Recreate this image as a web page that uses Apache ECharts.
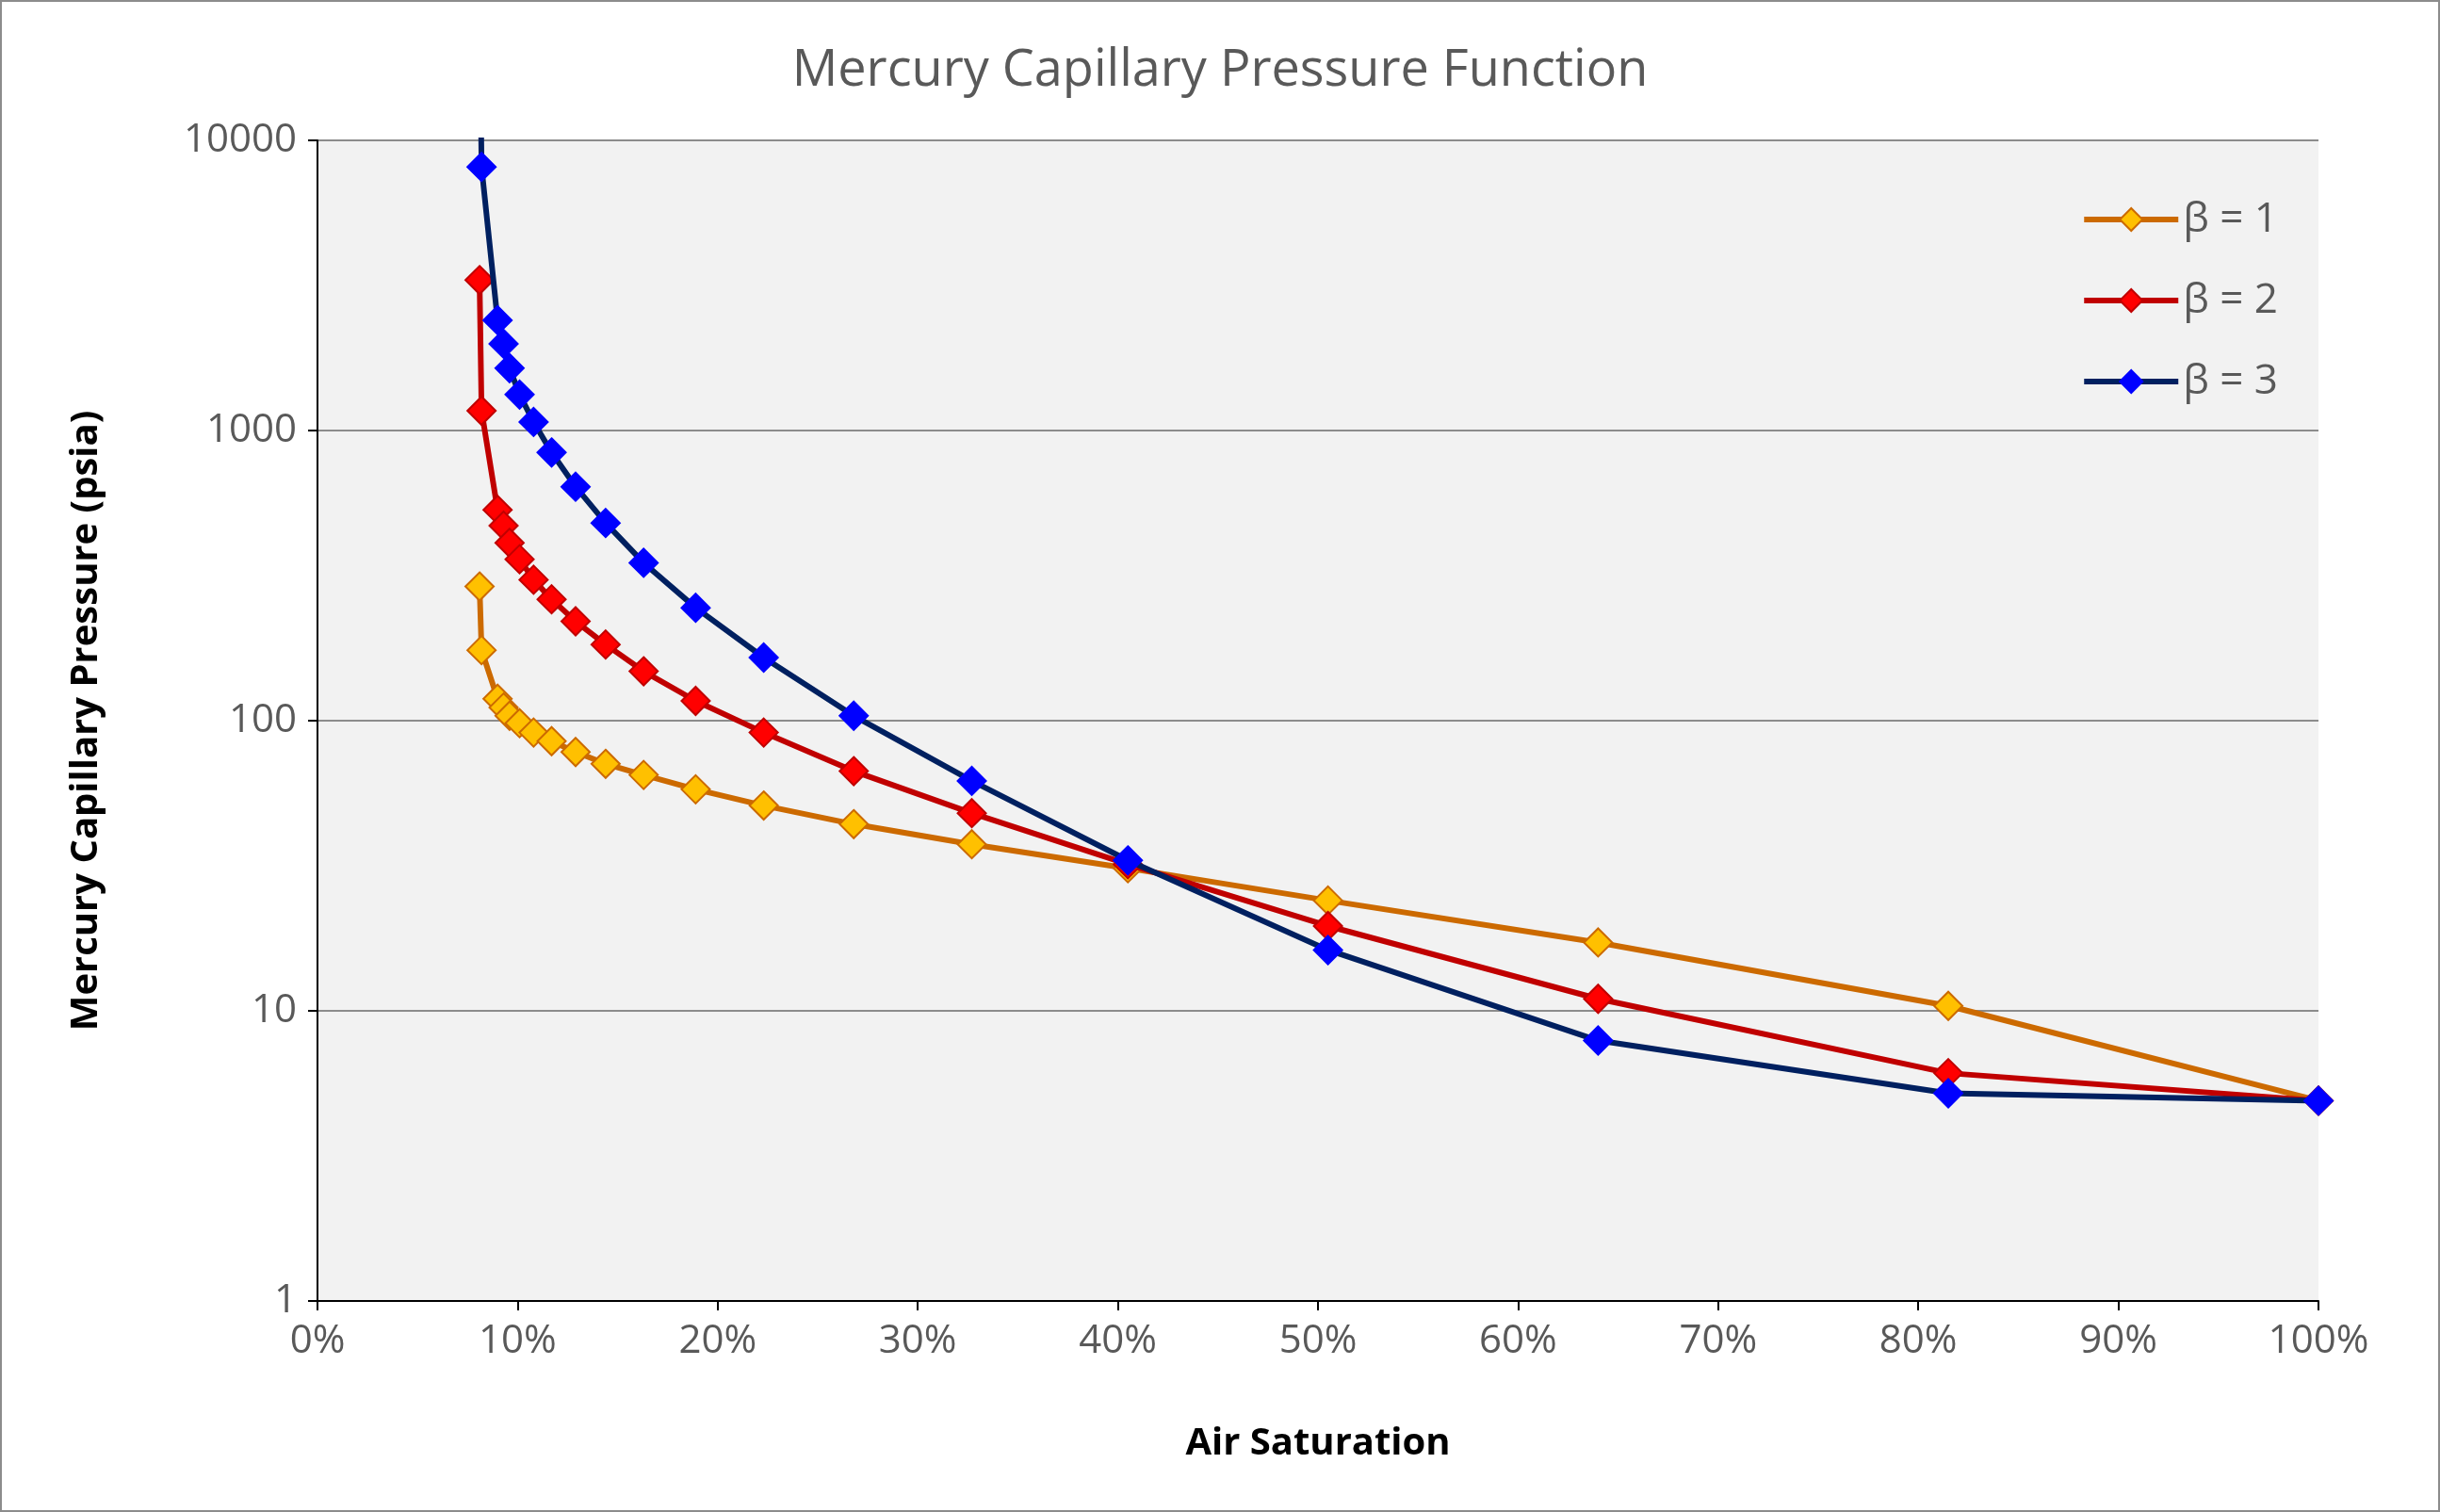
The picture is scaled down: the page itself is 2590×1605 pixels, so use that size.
<!DOCTYPE html>
<html>
<head>
<meta charset="utf-8">
<script src="https://cdn.jsdelivr.net/npm/echarts@6/dist/echarts.min.js"></script>
<style>
  html, body { margin: 0; padding: 0; background: #fff; }
  #main { width: 2590px; height: 1605px; box-sizing: border-box; border: 2px solid #8c8c8c; }
</style>
</head>
<body>
<div id="main"></div>
<script>
// air saturation (%)
const saturation = [8.1, 8.2, 9.0, 9.3, 9.6, 10.1, 10.8, 11.7, 12.9, 14.4, 16.3, 18.9, 22.3, 26.8, 32.7, 40.5, 50.5, 64.0, 81.5, 100];
// capillary pressure (psia)
const beta1 = [290, 175, 119, 111, 104, 98, 91, 85, 78, 71, 65, 58, 51, 44, 37.5, 31, 24, 17.2, 10.4, 4.9];
const beta2 = [3300, 1170, 533, 470, 410, 360, 306, 262, 220, 183, 148, 117, 91, 67, 48, 32, 19.6, 11, 6.1, 4.9];
const beta3 = [30000, 8100, 2400, 1990, 1640, 1330, 1070, 840, 640, 480, 350, 245, 165, 104, 62, 33, 16.2, 7.9, 5.2, 4.9];

const seriesNames = ['β = 1', 'β = 2', 'β = 3'];
const lineColors = ['#cc6a00', '#c00000', '#002060'];
const fillColors = ['#ffc000', '#ff0000', '#0000ff'];
const borderColors = ['#cc6a00', '#c00000', '#0000ff'];

const chart = echarts.init(document.getElementById('main'));

function pairs(ys) {
  return saturation.map((x, i) => [x, ys[i]]);
}

const option = {
  backgroundColor: '#fff',
  title: {
    text: 'Mercury Capillary Pressure Function',
    left: 'center', top: 42,
    textStyle: { fontFamily: 'Open Sans', fontWeight: 'normal', fontSize: 54, color: '#595959' }
  },
  legend: {
    right: 165, top: 204,
    orient: 'vertical',
    itemWidth: 100, itemHeight: 30, itemGap: 42,
    lineStyle: { width: 6 },
    textStyle: { fontFamily: 'Open Sans', fontSize: 44, color: '#595959', padding: [0, 0, 0, 0] },
    data: seriesNames
  },
  grid: { left: 335, right: 127, top: 147, bottom: 222, show: true, backgroundColor: '#f2f2f2', borderWidth: 0 },
  xAxis: {
    type: 'value', min: 0, max: 100, interval: 10,
    name: 'Air Saturation', nameLocation: 'middle', nameGap: 132,
    nameTextStyle: { fontFamily: 'Open Sans', fontWeight: 'bold', fontSize: 40, color: '#000' },
    axisLine: { lineStyle: { color: '#000', width: 2 } },
    axisTick: { show: true, length: 10, lineStyle: { color: '#000', width: 2 } },
    axisLabel: { formatter: '{value}%', fontFamily: 'Open Sans', fontSize: 42, color: '#595959', margin: 22 },
    splitLine: { show: false }
  },
  yAxis: {
    type: 'log', logBase: 10, min: 1, max: 10000,
    name: 'Mercury Capillary Pressure (psia)', nameLocation: 'middle', nameGap: 225,
    nameTextStyle: { fontFamily: 'Open Sans', fontWeight: 'bold', fontSize: 40, color: '#000' },
    axisLine: { show: true, lineStyle: { color: '#000', width: 2 } },
    axisTick: { show: true, length: 10, lineStyle: { color: '#000', width: 2 } },
    axisLabel: { formatter: v => String(Math.round(v)), fontFamily: 'Open Sans', fontSize: 42, color: '#595959', margin: 22 },
    splitLine: { show: true, lineStyle: { color: '#8c8c8c', width: 2 } }
  },
  series: [beta1, beta2, beta3].map((ys, i) => ({
    name: seriesNames[i],
    type: 'line',
    data: pairs(ys),
    clip: true,
    symbol: 'diamond',
    symbolSize: 30,
    lineStyle: { color: lineColors[i], width: 6 },
    itemStyle: { color: fillColors[i], borderColor: borderColors[i], borderWidth: 2 },
    emphasis: { disabled: true },
    z: 2 + i
  })),
  animation: false
};
chart.setOption(option);
</script>
</body>
</html>
